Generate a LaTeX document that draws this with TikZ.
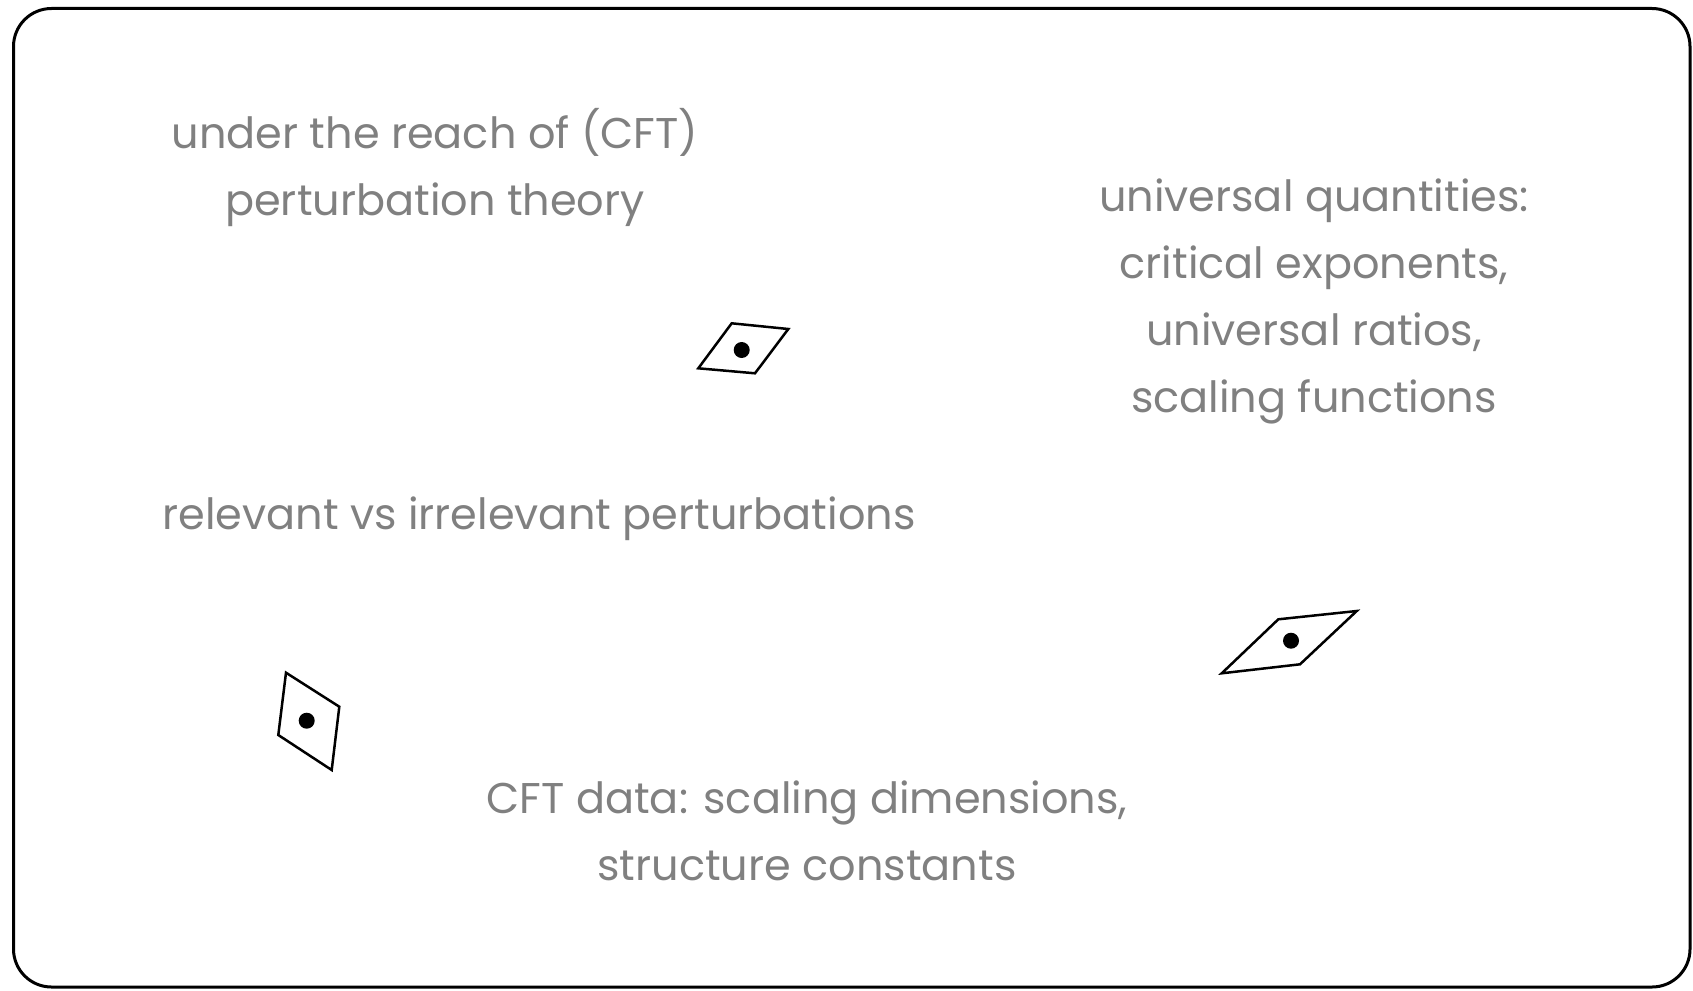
\documentclass[tikz,border=0pt]{standalone}
\usepackage{fontspec}
\setmainfont{Poppins}
\usepackage{tikz}

\definecolor{textgray}{HTML}{808080}

\tikzset{
    label/.style={text=textgray, align=center, inner sep=0pt, anchor=base,
        font=\fontsize{43}{67}\selectfont},
    cell/.style={draw=black, line width=2.5pt, line join=miter},
    spot/.style={circle, fill=black, inner sep=0pt, minimum size=16pt}
}

\begin{document}
\begin{tikzpicture}[x=1pt, y=-1pt]
    
    \useasboundingbox (0,0) rectangle (1693,990);
    \draw[line width=3pt, rounded corners=38pt] (13.5,8.5) rectangle (1690,987);
    
    \node[label] (reach) at (435,215) {under the reach of (CFT)\\perturbation theory};
    \node[label] (universal) at (1314,412) {universal quantities:\\critical exponents,\\universal ratios,\\scaling functions};
    \node[label] (relevant) at (539,529) {relevant vs irrelevant perturbations};
    \node[label] (cftdata) at (807,880) {CFT data: scaling dimensions,\\structure constants};
    
    \draw[cell] (731.7,323.3) -- (788.3,329) -- (755,373.3) -- (698.3,368.3) -- cycle;
    \node[spot] (p1) at (741.7,350) {};
    
    \draw[cell] (1278.3,619.3) -- (1356.7,611) -- (1300,664.3) -- (1221.7,673.3) -- cycle;
    \node[spot] (p2) at (1291,640.7) {};
    
    \draw[cell] (286,672.7) -- (339.3,706.7) -- (331.7,770) -- (278.3,735) -- cycle;
    \node[spot] (p3) at (306.7,720.7) {};
    
\end{tikzpicture}
\end{document}
